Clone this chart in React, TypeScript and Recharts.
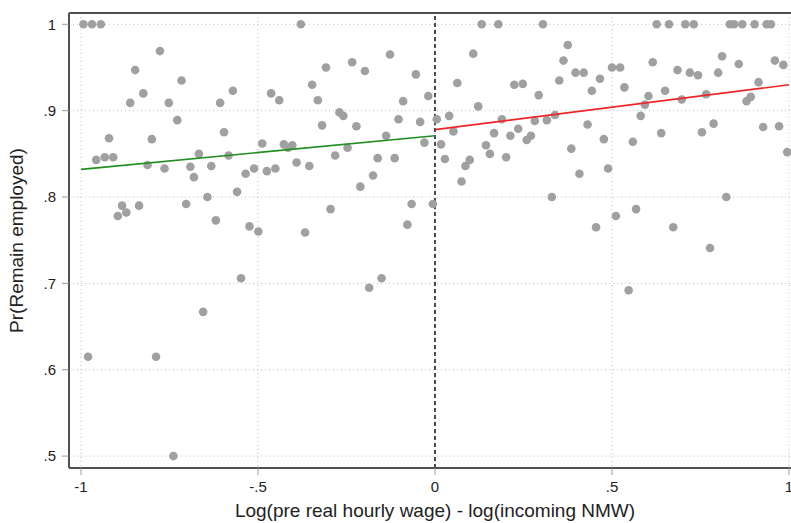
import {
  CartesianGrid,
  ReferenceLine,
  Scatter,
  ScatterChart,
  XAxis,
  YAxis,
} from 'recharts'

// binned means, below the threshold (x < 0)
const leftX = [
  -0.993, -0.969, -0.944, -0.777, -0.847, -0.716, -0.824, -0.861, -0.752, -0.728,
  -0.921, -0.8, -0.957, -0.933, -0.909, -0.812, -0.764, -0.691, -0.681, -0.884,
  -0.896, -0.872, -0.836, -0.703, -0.98, -0.788, -0.739,
  -0.379, -0.347, -0.571, -0.463, -0.44, -0.607, -0.596, -0.488, -0.427, -0.403,
  -0.415, -0.667, -0.583, -0.632, -0.535, -0.511, -0.475, -0.451, -0.391, -0.355,
  -0.559, -0.643, -0.619, -0.524, -0.499, -0.367, -0.548, -0.655,
  -0.127, -0.234, -0.308, -0.198, -0.054, -0.331, -0.09, -0.019, -0.27, -0.259,
  -0.319, -0.222, -0.103, -0.042, -0.138, -0.03, -0.247, -0.282, -0.162, -0.114,
  -0.175, -0.211, -0.295, -0.066, -0.006, -0.078, -0.151, -0.186,
]
const leftY = [
  1, 1, 1, 0.969, 0.947, 0.935, 0.92, 0.909, 0.909, 0.889,
  0.868, 0.867, 0.843, 0.846, 0.846, 0.837, 0.833, 0.835, 0.823, 0.79,
  0.778, 0.782, 0.79, 0.792, 0.615, 0.615, 0.5,
  1, 0.93, 0.923, 0.92, 0.912, 0.909, 0.875, 0.862, 0.861, 0.86,
  0.857, 0.85, 0.848, 0.836, 0.827, 0.833, 0.83, 0.833, 0.84, 0.836,
  0.806, 0.8, 0.773, 0.766, 0.76, 0.759, 0.706, 0.667,
  0.965, 0.956, 0.95, 0.946, 0.942, 0.912, 0.911, 0.917, 0.898, 0.894,
  0.883, 0.882, 0.89, 0.887, 0.871, 0.863, 0.857, 0.848, 0.845, 0.845,
  0.825, 0.812, 0.786, 0.792, 0.792, 0.768, 0.706, 0.695,
]

// binned means, above the threshold (x >= 0)
const rightX = [
  0.132, 0.179, 0.305, 0.108, 0.063, 0.224, 0.248, 0.293, 0.122, 0.04,
  0.005, 0.189, 0.282, 0.316, 0.052, 0.167, 0.235, 0.213, 0.271, 0.259,
  0.017, 0.144, 0.155, 0.201, 0.028, 0.098, 0.086, 0.075,
  0.626, 0.661, 0.375, 0.363, 0.615, 0.397, 0.42, 0.5, 0.523, 0.351,
  0.466, 0.443, 0.535, 0.65, 0.603, 0.593, 0.339, 0.581, 0.431, 0.639,
  0.477, 0.559, 0.385, 0.489, 0.408, 0.33, 0.568, 0.511, 0.455, 0.547,
  0.707, 0.731, 0.833, 0.845, 0.868, 0.903, 0.937, 0.949, 0.811, 0.685,
  0.72, 0.743, 0.8, 0.858, 0.96, 0.984, 0.914, 0.697, 0.766, 0.88,
  0.892, 0.754, 0.787, 0.927, 0.972, 0.995, 0.823, 0.673, 0.777,
]
const rightY = [
  1, 1, 1, 0.966, 0.932, 0.93, 0.931, 0.918, 0.905, 0.894,
  0.89, 0.89, 0.888, 0.889, 0.876, 0.874, 0.879, 0.871, 0.871, 0.866,
  0.861, 0.86, 0.85, 0.846, 0.844, 0.843, 0.836, 0.818,
  1, 1, 0.976, 0.958, 0.956, 0.944, 0.944, 0.95, 0.95, 0.935,
  0.937, 0.923, 0.927, 0.923, 0.917, 0.907, 0.895, 0.894, 0.884, 0.874,
  0.867, 0.864, 0.856, 0.833, 0.827, 0.8, 0.786, 0.778, 0.765, 0.692,
  1, 1, 1, 1, 1, 1, 1, 1, 0.963, 0.947,
  0.944, 0.941, 0.944, 0.954, 0.958, 0.953, 0.933, 0.913, 0.919, 0.911,
  0.916, 0.875, 0.885, 0.881, 0.882, 0.852, 0.8, 0.765, 0.741,
]

// linear fits on each side
const fitLeftX = [-1, 0]
const fitLeftY = [0.832, 0.871]
const fitRightX = [0, 1]
const fitRightY = [0.878, 0.93]

const xTicks = [-1, -0.5, 0, 0.5, 1]
const xTickLabels = ['-1', '-.5', '0', '.5', '1']
const yTicks = [0.5, 0.6, 0.7, 0.8, 0.9, 1]
const yTickLabels = ['.5', '.6', '.7', '.8', '.9', '1']

const zip = (xs: number[], ys: number[]) => xs.map((x, i) => ({ x, y: ys[i] }))

const points = [...zip(leftX, leftY), ...zip(rightX, rightY)]
const fitLeft = zip(fitLeftX, fitLeftY)
const fitRight = zip(fitRightX, fitRightY)

const xMin = -1.0339
const xMax = 1.0339
const yMin = 0.4862
const yMax = 1.0131
const frame = '#505050'
const font = '"Liberation Sans", Arial, sans-serif'
const tickStyle = { fill: '#222', fontSize: 15, fontFamily: font }

const Dot = (p: any) => <circle cx={p.cx} cy={p.cy} r={4.3} fill="#a0a0a0" />
const NoDot = () => <g />

export default function App() {
  return (
    <div
      style={{
        position: 'absolute',
        left: 0,
        top: 0,
        width: 791,
        height: 523,
        overflow: 'hidden',
        background: '#fff',
      }}
    >
      <ScatterChart width={820} height={523} margin={{ top: 13, right: 19, bottom: 0, left: 0 }}>
        <CartesianGrid strokeDasharray="1 3" stroke="#bdbdbd" />
        <XAxis
          type="number"
          dataKey="x"
          domain={[xMin, xMax]}
          ticks={xTicks}
          tickFormatter={(v: number) => xTickLabels[xTicks.indexOf(v)]}
          allowDataOverflow
          height={55}
          tickSize={7}
          tickMargin={6}
          tick={tickStyle}
          tickLine={{ stroke: '#9a9a9a' }}
          axisLine={{ stroke: frame, strokeWidth: 2 }}
          label={{
            value: 'Log(pre real hourly wage) - log(incoming NMW)',
            position: 'insideBottom',
            offset: 6,
            fill: '#222',
            fontSize: 19,
            fontFamily: font,
          }}
        />
        <YAxis
          type="number"
          dataKey="y"
          domain={[yMin, yMax]}
          ticks={yTicks}
          tickFormatter={(v: number) => yTickLabels[yTicks.indexOf(v)]}
          allowDataOverflow
          width={69}
          tickSize={7}
          tickMargin={6}
          tick={tickStyle}
          tickLine={{ stroke: '#9a9a9a' }}
          axisLine={{ stroke: frame, strokeWidth: 2 }}
          label={{
            value: 'Pr(Remain employed)',
            angle: -90,
            position: 'insideLeft',
            offset: 16,
            fill: '#222',
            fontSize: 19,
            fontFamily: font,
            style: { textAnchor: 'middle' },
          }}
        />
        <ReferenceLine y={yMax} stroke={frame} strokeWidth={2} ifOverflow="visible" />
        <ReferenceLine x={0} stroke="#222" strokeWidth={1.6} strokeDasharray="4 3" />
        <Scatter data={points} shape={Dot} isAnimationActive={false} />
        <Scatter
          data={fitLeft}
          shape={NoDot}
          line={{ stroke: '#1f8f1f', strokeWidth: 1.6 }}
          isAnimationActive={false}
        />
        <Scatter
          data={fitRight}
          shape={NoDot}
          line={{ stroke: '#f02424', strokeWidth: 1.6 }}
          isAnimationActive={false}
        />
      </ScatterChart>
    </div>
  )
}
